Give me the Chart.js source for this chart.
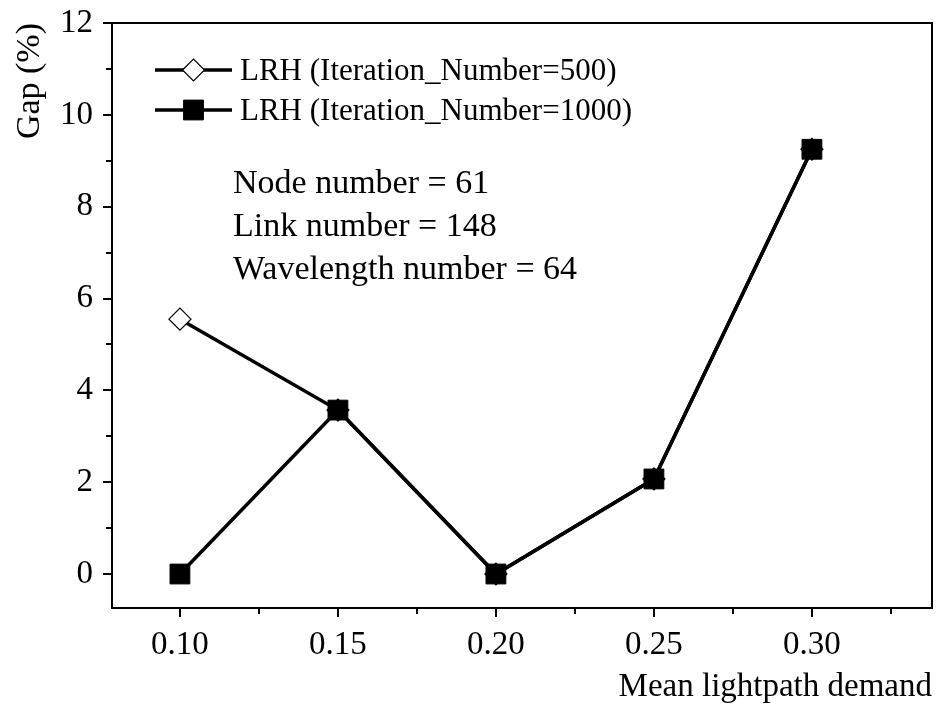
<!DOCTYPE html>
<html>
<head>
<meta charset="utf-8">
<script src="https://cdn.jsdelivr.net/npm/chart.js@4/dist/chart.umd.min.js"></script>
<style>
  html, body { margin: 0; padding: 0; background: #fff; }
  #wrap { width: 942px; height: 711px; }
</style>
</head>
<body>
<div id="wrap"><canvas id="gapChart"></canvas></div>
<script>
  'use strict';

  // data
  var demand = [0.10, 0.15, 0.20, 0.25, 0.30];
  var gapIter500 = [5.55, 3.57, 0, 2.07, 9.25];
  var gapIter1000 = [0, 3.57, 0, 2.07, 9.25];
  var xTicks = [0.10, 0.125, 0.15, 0.175, 0.20, 0.225, 0.25, 0.275, 0.30, 0.325];
  var xLabelTicks = [0.10, 0.15, 0.20, 0.25, 0.30];
  var yTicks = [0, 1, 2, 3, 4, 5, 6, 7, 8, 9, 10, 11, 12];
  var infoLines = ['Node number = 61', 'Link number = 148', 'Wavelength number = 64'];

  var FONT = '"Liberation Serif", "Times New Roman", serif';

  function points(ys) {
    return demand.map(function (x, i) { return { x: x, y: ys[i] }; });
  }
  function isLabelX(v) {
    return xLabelTicks.some(function (t) { return Math.abs(t - v) < 1e-6; });
  }

  // minor ticks shorter than major ones, and the legend / notes drawn in the plot
  var extras = {
    id: 'extras',
    afterDraw: function (chart) {
      var c = chart.ctx;
      var xs = chart.scales.x, ys = chart.scales.y;
      var area = chart.chartArea;
      c.save();
      c.strokeStyle = '#000';
      c.lineWidth = 2;
      c.beginPath();
      xTicks.forEach(function (v) {
        if (!isLabelX(v)) {
          var px = Math.round(xs.getPixelForValue(v));
          c.moveTo(px, area.bottom);
          c.lineTo(px, area.bottom + 6);
        }
      });
      yTicks.forEach(function (v) {
        if (v % 2 !== 0) {
          var py = Math.round(ys.getPixelForValue(v));
          c.moveTo(area.left, py);
          c.lineTo(area.left - 6, py);
        }
      });
      c.stroke();

      // top and right frame
      c.beginPath();
      c.moveTo(area.left, area.top);
      c.lineTo(area.right, area.top);
      c.lineTo(area.right, area.bottom);
      c.stroke();

      // legend
      var lx0 = area.left + 43, lx1 = area.left + 120, ly = area.top + 47;
      chart.data.datasets.forEach(function (ds, i) {
        var y = ly + i * 40;
        c.lineWidth = 3.5;
        c.strokeStyle = '#000';
        c.beginPath();
        c.moveTo(lx0, y);
        c.lineTo(lx1, y);
        c.stroke();
        c.fillStyle = ds.pointBackgroundColor;
        c.strokeStyle = '#000';
        c.lineWidth = ds.pointBorderWidth;
        Chart.helpers.drawPoint(c, {
          pointStyle: ds.pointStyle,
          radius: ds.pointRadius,
          borderWidth: ds.pointBorderWidth
        }, (lx0 + lx1) / 2, y);
        c.fillStyle = '#000';
        c.font = '31px ' + FONT;
        c.textBaseline = 'middle';
        c.textAlign = 'left';
        c.fillText(ds.label, lx1 + 8, y + 2);
      });

      // notes
      c.font = '34px ' + FONT;
      c.textBaseline = 'middle';
      infoLines.forEach(function (t, i) {
        c.fillText(t, area.left + 121, area.top + 161 + i * 43);
      });
      c.restore();
    }
  };

  new Chart(document.getElementById('gapChart'), {
    type: 'line',
    data: {
      datasets: [
        {
          label: 'LRH (Iteration_Number=500)',
          data: points(gapIter500),
          order: 2,
          borderColor: '#000',
          borderWidth: 3.5,
          pointStyle: 'rectRot',
          pointRadius: 11,
          pointBorderWidth: 1.2,
          pointBackgroundColor: '#ffffff',
          pointBorderColor: '#000',
          tension: 0
        },
        {
          label: 'LRH (Iteration_Number=1000)',
          data: points(gapIter1000),
          order: 1,
          borderColor: '#000',
          borderWidth: 3.5,
          pointStyle: 'rect',
          pointRadius: 14,
          pointBorderWidth: 1,
          pointBackgroundColor: '#000000',
          pointBorderColor: '#000',
          tension: 0
        }
      ]
    },
    options: {
      responsive: true,
      maintainAspectRatio: false,
      animation: false,
      events: [],
      layout: { autoPadding: false, padding: { top: 23, right: 10, left: 0, bottom: 0 } },
      plugins: {
        legend: { display: false },
        tooltip: { enabled: false }
      },
      scales: {
        x: {
          type: 'linear',
          min: 0.0785,
          max: 0.338,
          afterBuildTicks: function (s) {
            s.ticks = xTicks.map(function (v) { return { value: v }; });
          },
          afterFit: function (s) {
            s.height = 103;
            s.paddingLeft = 0;
            s.paddingRight = 0;
          },
          border: { display: true, color: '#000', width: 2 },
          grid: {
            drawOnChartArea: false,
            tickLength: 9,
            lineWidth: 2,
            tickColor: function (ctx) {
              return isLabelX(ctx.tick.value) ? '#000' : 'rgba(0,0,0,0)';
            }
          },
          ticks: {
            color: '#000',
            padding: 9,
            maxRotation: 0,
            autoSkip: false,
            font: { family: FONT, size: 33 },
            callback: function (v) { return isLabelX(v) ? Number(v).toFixed(2) : ''; }
          },
          title: {
            display: true,
            text: 'Mean lightpath demand',
            align: 'end',
            color: '#000',
            padding: { top: 0 },
            font: { family: FONT, size: 33 }
          }
        },
        y: {
          min: -0.74,
          max: 12,
          afterBuildTicks: function (s) {
            s.ticks = yTicks.map(function (v) { return { value: v }; });
          },
          afterFit: function (s) {
            s.width = 112;
            s.paddingTop = 0;
            s.paddingBottom = 0;
          },
          border: { display: true, color: '#000', width: 2 },
          grid: {
            drawOnChartArea: false,
            tickLength: 9,
            lineWidth: 2,
            tickColor: function (ctx) {
              return ctx.tick.value % 2 === 0 ? '#000' : 'rgba(0,0,0,0)';
            }
          },
          ticks: {
            color: '#000',
            padding: 10,
            autoSkip: false,
            font: { family: FONT, size: 33 },
            callback: function (v) { return v % 2 === 0 ? String(v) : ''; }
          },
          title: {
            display: true,
            text: 'Gap (%)',
            align: 'end',
            color: '#000',
            padding: { top: 10, bottom: 0 },
            font: { family: FONT, size: 34 }
          }
        }
      }
    },
    plugins: [extras]
  });
</script>
</body>
</html>
